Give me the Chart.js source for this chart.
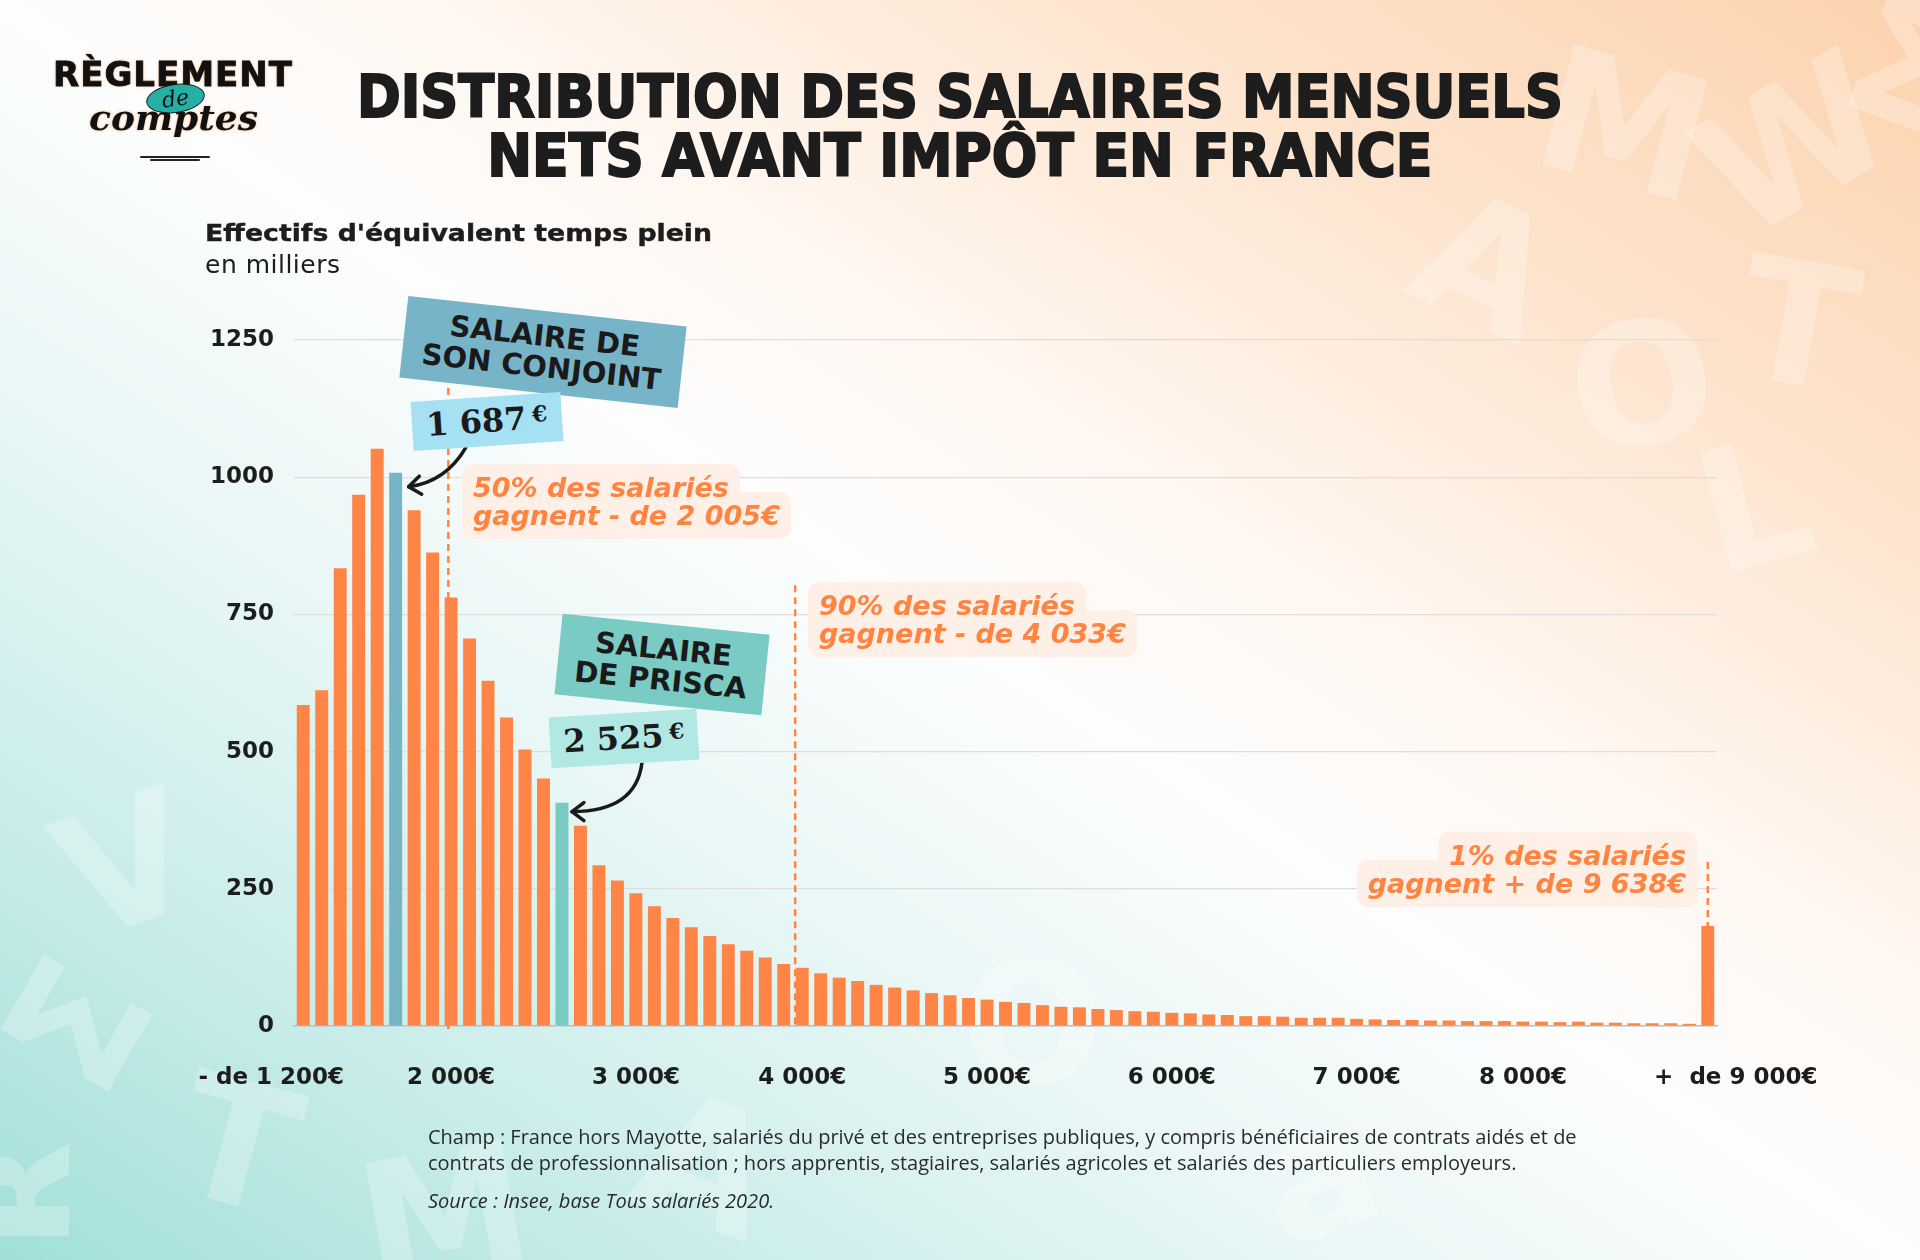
<!DOCTYPE html>
<html lang="fr">
<head>
<meta charset="utf-8">
<title>Distribution des salaires mensuels nets avant impôt en France</title>
<script src="https://cdn.jsdelivr.net/npm/chart.js@4.4.1/dist/chart.umd.min.js"></script>
<style>
  html, body { margin: 0; padding: 0; }
  body {
    width: 1920px; height: 1260px; position: relative; overflow: hidden;
    font-family: 'DejaVu Sans', sans-serif; color: #1d1d1d;
    background: linear-gradient(to top right, #a2dfd9 0%, #cdeeeb 20%, #e9f7f6 35%, #fdfdfd 50%, #fff6ef 62%, #fde3cc 80%, #fcd2ad 100%);
  }
  #chart { position: absolute; left: 0; top: 0; z-index: 1; }
  .wm { position: absolute; z-index: 0; font-weight: bold; font-size: 170px; color: rgba(255,255,255,0.26); line-height: 1; }
  .title { position: absolute; left: 0; width: 1920px; text-align: center; z-index: 2;
    font-size: 59px; line-height: 59px; font-weight: bold; white-space: nowrap; -webkit-text-stroke: 2.2px #1d1d1d; }
  .title span { display: inline-block; transform-origin: center; }
  .ylab { position: absolute; left: 205px; z-index: 2; white-space: nowrap; transform-origin: left center; }
  .tag { position: absolute; z-index: 3; display: flex; align-items: center; justify-content: center;
    text-align: center; font-weight: bold; font-size: 29px; line-height: 31px; color: #1a1a1a; }
  .num { font-family: 'DejaVu Serif', serif; font-size: 32px; }
  .num sup { font-size: 22px; margin-left: 6px; position: relative; top: -4px; }
  .note { position: absolute; z-index: 3; white-space: nowrap; font-size: 27px; line-height: 28px;
    font-weight: bold; font-style: italic; color: #ff8442; }
  .note .bg { background: #fff0e7; padding: 8px 11px; border-radius: 11px;
    -webkit-box-decoration-break: clone; box-decoration-break: clone; }
  .note b { position: relative; z-index: 1; font-weight: inherit; }
  .foot { position: absolute; left: 428px; z-index: 2; font-family: 'Open Sans', sans-serif;
    font-size: 20px; line-height: 26px; color: #2b2b2b; white-space: nowrap; }
  .logo-top { position: absolute; left: 53px; top: 57px; font-size: 34px; line-height: 34px; font-weight: bold;
    letter-spacing: 1px; color: #111; -webkit-text-stroke: 0.8px #111; text-shadow: 0 0 3px rgba(247,160,90,0.9); z-index: 2; }
  .logo-de { position: absolute; left: 146px; top: 84px; width: 57px; height: 27px; border-radius: 50%;
    background: #25b0a5; border: 1.5px solid #1a1a1a; transform: rotate(-8deg); z-index: 3;
    display: flex; align-items: center; justify-content: center;
    font-family: 'DejaVu Serif', serif; font-style: italic; font-size: 22px; color: #111; }
  .logo-bottom { position: absolute; left: 89px; top: 99px; font-family: 'DejaVu Serif', serif; font-weight: bold;
    font-style: italic; font-size: 36px; line-height: 36px; color: #111; text-shadow: 0 0 3px rgba(247,160,90,0.8); z-index: 2; }
  .logo-line { position: absolute; height: 2px; background: #222; border-radius: 2px; z-index: 2; }
</style>
</head>
<body>
<!-- lettres en filigrane -->
<div class="wm" style="left:1850px;top:-20px;transform:rotate(20deg)">Σ</div>
<div class="wm" style="left:1700px;top:60px;transform:rotate(-30deg)">W</div>
<div class="wm" style="left:1540px;top:40px;transform:rotate(15deg)">M</div>
<div class="wm" style="left:1740px;top:240px;transform:rotate(10deg)">T</div>
<div class="wm" style="left:1570px;top:300px;transform:rotate(-10deg)">O</div>
<div class="wm" style="left:1420px;top:180px;transform:rotate(25deg)">A</div>
<div class="wm" style="left:1700px;top:420px;transform:rotate(-15deg)">L</div>
<div class="wm" style="left:20px;top:940px;transform:rotate(-60deg)">Σ</div>
<div class="wm" style="left:-20px;top:1110px;transform:rotate(90deg)">ᴚ</div>
<div class="wm" style="left:180px;top:1060px;transform:rotate(15deg)">T</div>
<div class="wm" style="left:360px;top:1130px;transform:rotate(-10deg)">M</div>
<div class="wm" style="left:640px;top:1080px;transform:rotate(20deg)">A</div>
<div class="wm" style="left:960px;top:940px;transform:rotate(0deg)">O</div>
<div class="wm" style="left:1260px;top:1090px;transform:rotate(-20deg)">a</div>
<div class="wm" style="left:60px;top:780px;transform:rotate(-20deg)">V</div>

<canvas id="chart" width="1920" height="1260"></canvas>

<div class="logo-top">RÈGLEMENT</div>
<div class="logo-de">de</div>
<div class="logo-bottom">comptes</div>
<div class="logo-line" style="left:140px;top:156px;width:70px"></div>
<div class="logo-line" style="left:150px;top:159px;width:50px;height:1.5px"></div>

<div class="title" style="top:67px"><span id="t1">DISTRIBUTION DES SALAIRES MENSUELS</span></div>
<div class="title" style="top:126px"><span id="t2">NETS AVANT IMPÔT EN FRANCE</span></div>

<div class="ylab" id="ytitle" style="top:222px;font-size:22.5px;line-height:22.5px;font-weight:bold;-webkit-text-stroke:0.4px #1d1d1d">Effectifs d'équivalent temps plein</div>
<div class="ylab" style="top:252px;font-size:25px;line-height:25px;letter-spacing:0.5px">en milliers</div>

<div class="tag" style="left:403px;top:311px;width:280px;height:82px;background:#77b4c8;transform:rotate(6.3deg)">SALAIRE DE<br>SON CONJOINT</div>
<div class="tag num" style="left:412px;top:397px;width:150px;height:49px;background:#a5e0f3;transform:rotate(-3.8deg)">1 687<sup>€</sup></div>
<div class="tag" style="left:558px;top:624px;width:208px;height:81px;background:#79cbc3;transform:rotate(5.8deg)">SALAIRE<br>DE PRISCA</div>
<div class="tag num" style="left:550px;top:713px;width:148px;height:51px;background:#b2e8e4;transform:rotate(-3.4deg)">2 525<sup>€</sup></div>

<div class="note" style="left:462px;top:474px"><span class="bg"><b>50% des salariés</b><br><b>gagnent - de 2 005€</b></span></div>
<div class="note" style="left:808px;top:592px"><span class="bg"><b>90% des salariés</b><br><b>gagnent - de 4 033€</b></span></div>
<div class="note" style="right:223px;top:842px;text-align:right"><span class="bg"><b>1% des salariés</b><br><b>gagnent + de 9 638€</b></span></div>

<div class="foot" style="top:1124px">Champ : France hors Mayotte, salariés du privé et des entreprises publiques, y compris bénéficiaires de contrats aidés et de<br>contrats de professionnalisation ; hors apprentis, stagiaires, salariés agricoles et salariés des particuliers employeurs.</div>
<div class="foot" style="top:1188px;font-style:italic">Source : Insee, base Tous salariés 2020.</div>

<script>
// effectifs en milliers, par tranche de salaire (de "- de 1 200€" à "+ de 9 000€")
const effectifs = [
  585, 612, 834, 968, 1052, 1008, 940, 863, 781, 706,
  629, 562, 504, 451, 407, 365, 293, 265, 242, 218,
  197, 180, 164, 149, 137, 125, 113, 106, 96, 88,
  82, 75, 70, 65, 60, 56, 51, 48, 44, 42,
  38, 35, 34, 31, 29, 27, 26, 24, 23, 21,
  20, 18, 18, 17, 15, 15, 15, 13, 12, 11,
  11, 10, 10, 9, 9, 9, 8, 8, 7, 8,
  6, 6, 5, 5, 5, 4, 182
];
const categories = effectifs.map((_, i) => 'tranche ' + (i + 1));

// étiquettes de l'axe x (index de la tranche -> texte)
const tickLabels = {
  0: '- de 1 200€\u00a0\u00a0\u00a0\u00a0\u00a0\u00a0\u00a0\u00a0',
  8: '2 000€',
  18: '3 000€',
  27: '4 000€',
  37: '5 000€',
  47: '6 000€',
  57: '7 000€',
  66: '8 000€',
  76: '\u00a0\u00a0\u00a0\u00a0\u00a0\u00a0\u00a0+  de 9 000€'
};
const yTicks = [0, 250, 500, 750, 1000, 1250];

const conjointIndex = 5;   // 1 687 €
const priscaIndex = 14;    // 2 525 €

// seuils en pointillés : position (en tranches) et hauteur de départ (en milliers)
const seuils = [
  { position: 7.85, from: 1250 },   // médiane 2 005 €
  { position: 26.62, from: 803 },   // 90 % : 4 033 €
  { position: 76, from: 299 }       // 1 % : 9 638 €
];

const orange = '#ff8547';
const barColors = effectifs.map((_, i) =>
  i === conjointIndex ? '#77b4c8' : i === priscaIndex ? '#79cac3' : orange);

function drawArrow(ctx, sx, sy, cx, cy, tx, ty) {
  ctx.beginPath();
  ctx.moveTo(sx, sy);
  ctx.quadraticCurveTo(cx, cy, tx, ty);
  ctx.stroke();
  const a = Math.atan2(ty - cy, tx - cx);
  const len = 15, spread = 0.65;
  ctx.beginPath();
  ctx.moveTo(tx - len * Math.cos(a - spread), ty - len * Math.sin(a - spread));
  ctx.lineTo(tx, ty);
  ctx.lineTo(tx - len * Math.cos(a + spread), ty - len * Math.sin(a + spread));
  ctx.stroke();
}

const annotations = {
  id: 'annotations',
  afterDatasetsDraw(chart) {
    const { ctx, scales: { x, y } } = chart;
    ctx.save();
    ctx.strokeStyle = orange;
    ctx.lineWidth = 2.5;
    ctx.setLineDash([7, 5]);
    seuils.forEach(s => {
      const px = x.getPixelForValue(s.position);
      ctx.beginPath();
      ctx.moveTo(px, y.getPixelForValue(s.from));
      ctx.lineTo(px, y.getPixelForValue(0) + 3);
      ctx.stroke();
    });
    ctx.setLineDash([]);
    ctx.strokeStyle = '#1a1a1a';
    ctx.lineWidth = 3.5;
    ctx.lineCap = 'round';
    ctx.lineJoin = 'round';
    // flèche vers le salaire du conjoint
    let tx = x.getPixelForValue(conjointIndex) + 13;
    let ty = y.getPixelForValue(effectifs[conjointIndex]) + 14;
    drawArrow(ctx, tx + 57, ty - 39, tx + 37, ty - 5, tx, ty);
    // flèche vers le salaire de Prisca
    tx = x.getPixelForValue(priscaIndex) + 10;
    ty = y.getPixelForValue(effectifs[priscaIndex]) + 9;
    drawArrow(ctx, tx + 70, ty - 49, tx + 64, ty, tx, ty);
    ctx.restore();
  }
};

function fitWidth(id, target) {
  const el = document.getElementById(id);
  const w = el.getBoundingClientRect().width;
  el.style.transform = 'scaleX(' + (target / w) + ')';
}

function draw() {
  fitWidth('t1', 1206);
  fitWidth('t2', 945);
  fitWidth('ytitle', 507);

  new Chart(document.getElementById('chart'), {
    type: 'bar',
    data: {
      labels: categories,
      datasets: [{
        data: effectifs,
        backgroundColor: barColors,
        barPercentage: 0.7,
        categoryPercentage: 1
      }]
    },
    options: {
      responsive: false,
      animation: false,
      devicePixelRatio: 1,
      layout: { padding: { top: 340, right: 203, bottom: 134, left: 0 } },
      plugins: { legend: { display: false }, tooltip: { enabled: false } },
      scales: {
        x: {
          grid: { display: false, drawTicks: false },
          border: { color: '#b3c2c2', width: 1.5 },
          ticks: {
            autoSkip: false, maxRotation: 0, minRotation: 0, padding: 38,
            color: '#1d1d1d',
            font: { family: 'DejaVu Sans', size: 23, weight: 'bold' },
            callback: (v, i) => tickLabels[i] || ''
          },
          afterFit: s => { s.height = 100; }
        },
        y: {
          min: 0, max: 1250,
          afterBuildTicks: s => { s.ticks = yTicks.map(v => ({ value: v })); },
          grid: { color: '#dedede', lineWidth: 1.2, drawTicks: false },
          border: { display: false },
          ticks: {
            padding: 20, color: '#1d1d1d',
            font: { family: 'DejaVu Sans', size: 23, weight: 'bold' },
            callback: v => String(v)
          },
          afterFit: s => { s.width = 294; }
        }
      }
    },
    plugins: [annotations]
  });
}

if (document.fonts && document.fonts.ready) {
  document.fonts.ready.then(draw);
} else {
  draw();
}
</script>
</body>
</html>
